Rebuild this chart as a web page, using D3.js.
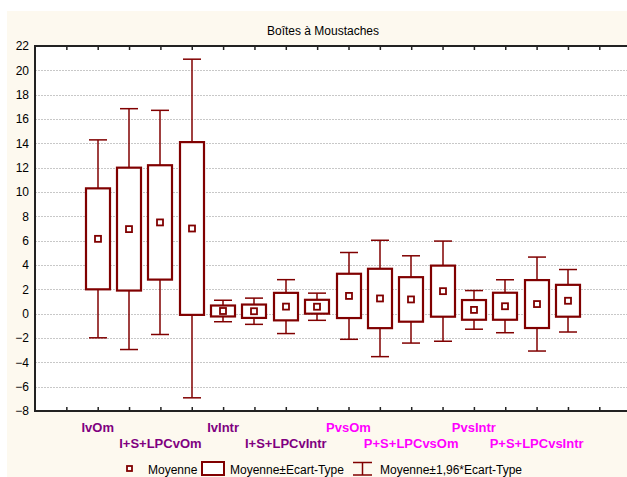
<!DOCTYPE html>
<html>
<head>
<meta charset="utf-8">
<script src="https://cdn.jsdelivr.net/npm/d3@7"></script>
<style>
  body { margin: 0; background: #fff; }
  svg { display: block; font-family: "Liberation Sans", Arial, sans-serif; }
</style>
</head>
<body>
<div id="chart"></div>
<script>
// data
const categories = ["IvOm", "IvOm b", "I+S+LPCvOm", "I+S+LPCvOm b",
  "IvIntr", "IvIntr b", "I+S+LPCvIntr", "I+S+LPCvIntr b",
  "PvsOm", "PvsOm b", "P+S+LPCvsOm", "P+S+LPCvsOm b",
  "PvsIntr", "PvsIntr b", "P+S+LPCvsIntr", "P+S+LPCvsIntr b"];
const means = [6.15, 6.95, 7.5, 7.0, 0.22, 0.2, 0.58, 0.57, 1.46, 1.25, 1.17, 1.85, 0.31, 0.61, 0.79, 1.06];
const sds   = [4.15, 5.05, 4.7, 7.1, 0.45, 0.55, 1.13, 0.57, 1.82, 2.44, 1.83, 2.1, 0.81, 1.11, 1.97, 1.31];
// only every other tick carries a label
const tickLabels = ["IvOm", "I+S+LPCvOm", "IvIntr", "I+S+LPCvIntr",
  "PvsOm", "P+S+LPCvsOm", "PvsIntr", "P+S+LPCvsIntr"];
const labelColors = ["#800080", "#800080", "#800080", "#800080",
  "#ff00ff", "#ff00ff", "#ff00ff", "#ff00ff"];
const yTicks = [-8, -6, -4, -2, 0, 2, 4, 6, 8, 10, 12, 14, 16, 18, 20, 22];

const W = 627, H = 477;
const red = "#800000";

const svg = d3.select("#chart").append("svg")
  .attr("width", W)
  .attr("height", H);

// cream panel
svg.append("rect")
  .attr("x", 7).attr("y", 11)
  .attr("width", W - 7).attr("height", H - 11)
  .attr("fill", "#fdf9ef");

// plot area
const pLeft = 35, pTop = 46, pBottom = 411;
svg.append("rect")
  .attr("x", pLeft).attr("y", pTop)
  .attr("width", W - pLeft).attr("height", pBottom - pTop)
  .attr("fill", "#fff");

const x = d3.scaleLinear().domain([-2, 18]).range([pLeft, 662]);
const y = d3.scaleLinear().domain([-8, 22]).range([pBottom, pTop]);

// title
svg.append("text")
  .attr("x", 323).attr("y", 35)
  .attr("text-anchor", "middle")
  .style("font-size", "12px")
  .text("Boîtes à Moustaches");

// gridlines
svg.append("g").selectAll("line")
  .data(yTicks.filter(d => d > -8 && d < 22))
  .enter().append("line")
    .attr("x1", pLeft).attr("x2", W)
    .attr("y1", d => Math.round(y(d)) + 0.5)
    .attr("y2", d => Math.round(y(d)) + 0.5)
    .attr("stroke", "#c8c8c8")
    .attr("stroke-dasharray", "2,1");

// Y axis
const yAxis = svg.append("g")
  .attr("transform", `translate(${pLeft}, 0)`)
  .call(d3.axisLeft(y).tickValues(yTicks).tickSize(0).tickPadding(6));
yAxis.select(".domain").remove();
yAxis.selectAll("text")
  .style("font-size", "12px")
  .style("font-family", "Liberation Sans, Arial, sans-serif")
  .attr("fill", "#000");

// X ticks top and bottom
const xTickVals = d3.range(-1, 18);
const topAxis = svg.append("g")
  .attr("transform", `translate(0, ${pTop})`)
  .call(d3.axisTop(x).tickValues(xTickVals).tickSize(-4).tickFormat(""));
topAxis.select(".domain").remove();
topAxis.selectAll("line").attr("stroke", "#222").attr("stroke-width", 1.5);

const botAxis = svg.append("g")
  .attr("transform", `translate(0, ${pBottom})`)
  .call(d3.axisBottom(x).tickValues(xTickVals).tickSize(-4).tickFormat(""));
botAxis.select(".domain").remove();
botAxis.selectAll("line").attr("stroke", "#222").attr("stroke-width", 1.5);

// frame
svg.append("path")
  .attr("d", `M${W},${pTop}H${pLeft}V${pBottom}H${W}`)
  .attr("fill", "none")
  .attr("stroke", "#222")
  .attr("stroke-width", 2);

// category labels, two rows
svg.append("g").selectAll("text")
  .data(tickLabels)
  .enter().append("text")
    .attr("x", (d, i) => x(i * 2))
    .attr("y", (d, i) => i % 2 === 0 ? 432 : 448)
    .attr("text-anchor", "middle")
    .attr("fill", (d, i) => labelColors[i])
    .style("font-size", "13px")
    .style("font-weight", "bold")
    .text(d => d);

// boxes
const bw = 24, cw = 18;
const boxes = svg.append("g").selectAll("g")
  .data(categories)
  .enter().append("g")
    .attr("transform", (d, i) => `translate(${Math.round(x(i))}, 0)`);

boxes.append("line")
  .attr("x1", 0).attr("x2", 0)
  .attr("y1", (d, i) => y(means[i] + 1.96 * sds[i]))
  .attr("y2", (d, i) => y(means[i] - 1.96 * sds[i]))
  .attr("stroke", red).attr("stroke-width", 1.5);

boxes.selectAll(".cap")
  .data((d, i) => [means[i] + 1.96 * sds[i], means[i] - 1.96 * sds[i]])
  .enter().append("line")
    .attr("class", "cap")
    .attr("x1", -cw / 2).attr("x2", cw / 2)
    .attr("y1", v => y(v)).attr("y2", v => y(v))
    .attr("stroke", red).attr("stroke-width", 1.5);

boxes.append("rect")
  .attr("x", -bw / 2)
  .attr("y", (d, i) => y(means[i] + sds[i]))
  .attr("width", bw)
  .attr("height", (d, i) => y(means[i] - sds[i]) - y(means[i] + sds[i]))
  .attr("fill", "#fff")
  .attr("stroke", red).attr("stroke-width", 2.2);

boxes.append("rect")
  .attr("x", -3)
  .attr("y", (d, i) => y(means[i]) - 3)
  .attr("width", 6).attr("height", 6)
  .attr("fill", "#fff")
  .attr("stroke", red).attr("stroke-width", 1.8);

// legend
const lg = svg.append("g").style("font-size", "12px");
lg.append("rect")
  .attr("x", 127).attr("y", 466).attr("width", 5).attr("height", 5)
  .attr("fill", "#fff").attr("stroke", red).attr("stroke-width", 1.8);
lg.append("text").attr("x", 148).attr("y", 474).text("Moyenne");
lg.append("rect")
  .attr("x", 202).attr("y", 462).attr("width", 22).attr("height", 13)
  .attr("fill", "#fff").attr("stroke", red).attr("stroke-width", 2);
lg.append("text").attr("x", 230).attr("y", 474).text("Moyenne±Ecart-Type");
lg.append("path")
  .attr("d", "M353,462.5H372M362.5,462.5V475M353,475H372")
  .attr("fill", "none").attr("stroke", red).attr("stroke-width", 1.5);
lg.append("text").attr("x", 380).attr("y", 474).text("Moyenne±1,96*Ecart-Type");
</script>
</body>
</html>
